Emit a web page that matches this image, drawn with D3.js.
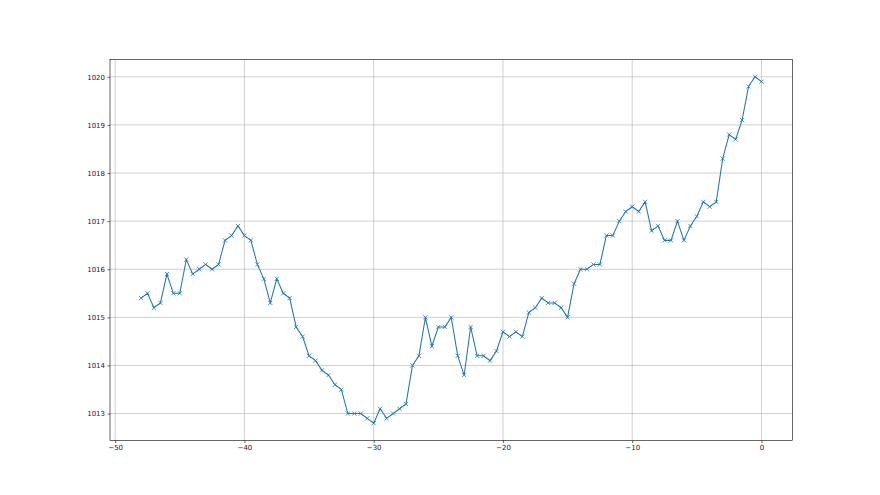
<!DOCTYPE html>
<html>
<head>
<meta charset="utf-8">
<script src="https://cdn.jsdelivr.net/npm/d3@7"></script>
<style>
  body { margin: 0; background: #fff; }
  svg { display: block; }
  .tick text { font-family: "DejaVu Sans", sans-serif; font-size: 7px; fill: #222; }
</style>
</head>
<body>
<svg id="chart" width="880" height="495"></svg>
<script>
// hours before now
const hours = [
  -48, -47.5, -47, -46.5, -46, -45.5, -45, -44.5, -44, -43.5, -43, -42.5, -42, -41.5, -41, -40.5,
  -40, -39.5, -39, -38.5, -38, -37.5, -37, -36.5, -36, -35.5, -35, -34.5, -34, -33.5, -33, -32.5,
  -32, -31.5, -31, -30.5, -30, -29.5, -29, -28.5, -28, -27.5, -27, -26.5, -26, -25.5, -25, -24.5,
  -24, -23.5, -23, -22.5, -22, -21.5, -21, -20.5, -20, -19.5, -19, -18.5, -18, -17.5, -17, -16.5,
  -16, -15.5, -15, -14.5, -14, -13.5, -13, -12.5, -12, -11.5, -11, -10.5, -10, -9.5, -9, -8.5,
  -8, -7.5, -7, -6.5, -6, -5.5, -5, -4.5, -4, -3.5, -3, -2.5, -2, -1.5, -1, -0.5, 0
];

const pressure = [
  1015.4, 1015.5, 1015.2, 1015.3, 1015.9, 1015.5, 1015.5, 1016.2, 1015.9, 1016.0, 1016.1, 1016.0, 1016.1, 1016.6, 1016.7, 1016.9,
  1016.7, 1016.6, 1016.1, 1015.8, 1015.3, 1015.8, 1015.5, 1015.4, 1014.8, 1014.6, 1014.2, 1014.1, 1013.9, 1013.8, 1013.6, 1013.5,
  1013.0, 1013.0, 1013.0, 1012.9, 1012.8, 1013.1, 1012.9, 1013.0, 1013.1, 1013.2, 1014.0, 1014.2, 1015.0, 1014.4, 1014.8, 1014.8,
  1015.0, 1014.2, 1013.8, 1014.8, 1014.2, 1014.2, 1014.1, 1014.3, 1014.7, 1014.6, 1014.7, 1014.6, 1015.1, 1015.2, 1015.4, 1015.3,
  1015.3, 1015.2, 1015.0, 1015.7, 1016.0, 1016.0, 1016.1, 1016.1, 1016.7, 1016.7, 1017.0, 1017.2, 1017.3, 1017.2, 1017.4, 1016.8,
  1016.9, 1016.6, 1016.6, 1017.0, 1016.6, 1016.9, 1017.1, 1017.4, 1017.3, 1017.4, 1018.3, 1018.8, 1018.7, 1019.1, 1019.8, 1020.0,
  1019.9
];

const xTicks = [-50, -40, -30, -20, -10, 0];
const yTicks = [1013, 1014, 1015, 1016, 1017, 1018, 1019, 1020];

const data = hours.map((h, i) => ({x: h, y: pressure[i]}));

const mLeft = 110, mRight = 792.5, mTop = 59.5, mBottom = 440.5;
const color = "#1f77b4";

const svg = d3.select("#chart");

// matplotlib-like 5% margins
const xr = d3.extent(hours), yr = d3.extent(pressure);
const xp = (xr[1] - xr[0]) * 0.05, yp = (yr[1] - yr[0]) * 0.05;

const x = d3.scaleLinear().domain([xr[0] - xp, xr[1] + xp]).range([mLeft, mRight]);
const y = d3.scaleLinear().domain([yr[0] - yp, yr[1] + yp]).range([mBottom, mTop]);

// grid
const grid = svg.append("g");
grid.selectAll("line.vx").data(xTicks).join("line")
  .attr("x1", d => x(d)).attr("x2", d => x(d))
  .attr("y1", mTop).attr("y2", mBottom)
  .attr("stroke", "#b0b0b0").attr("stroke-width", 0.6);
grid.selectAll("line.hy").data(yTicks).join("line")
  .attr("x1", mLeft).attr("x2", mRight)
  .attr("y1", d => y(d)).attr("y2", d => y(d))
  .attr("stroke", "#b0b0b0").attr("stroke-width", 0.6);

// line
svg.append("path")
  .datum(data)
  .attr("d", d3.line().x(d => x(d.x)).y(d => y(d.y)))
  .attr("fill", "none")
  .attr("stroke", color)
  .attr("stroke-width", 1.05);

// x markers
const m = 2.1;
svg.append("g").selectAll("path").data(data).join("path")
  .attr("d", d => {
    const cx = x(d.x), cy = y(d.y);
    return `M${cx - m},${cy - m}L${cx + m},${cy + m}M${cx - m},${cy + m}L${cx + m},${cy - m}`;
  })
  .attr("stroke", color)
  .attr("stroke-width", 0.8)
  .attr("fill", "none");

// axes
const fmt = d => d < 0 ? "\u2212" + Math.abs(d) : String(d);

const xAxis = svg.append("g")
  .attr("transform", `translate(0,${mBottom})`)
  .call(d3.axisBottom(x).tickValues(xTicks).tickFormat(fmt).tickSize(2.5).tickPadding(2.5));
const yAxis = svg.append("g")
  .attr("transform", `translate(${mLeft},0)`)
  .call(d3.axisLeft(y).tickValues(yTicks).tickFormat(d3.format("d")).tickSize(2.5).tickPadding(2.5));

[xAxis, yAxis].forEach(a => {
  a.select(".domain").remove();
  a.selectAll(".tick line").attr("stroke", "#000").attr("stroke-width", 0.6);
});

// spines
svg.append("rect")
  .attr("x", mLeft).attr("y", mTop)
  .attr("width", mRight - mLeft).attr("height", mBottom - mTop)
  .attr("fill", "none")
  .attr("stroke", "#000")
  .attr("stroke-width", 0.6);
</script>
</body>
</html>
